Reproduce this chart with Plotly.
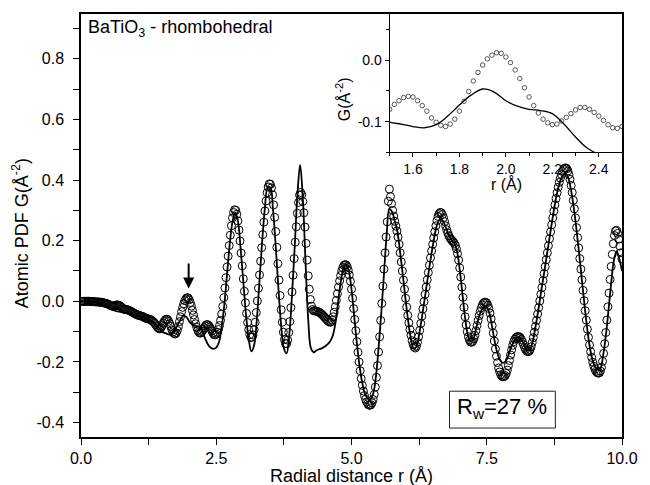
import plotly.graph_objects as go

# ---------------- data ----------------
R_OBS_STEP = 0.02   # experimental points, r = 0 ... 10 A
G_OBS = [
    0.000, 0.000, 0.000, 0.000, 0.000, 0.000, 0.000, 0.000, 0.000, -0.001, -0.001, -0.001, -0.001, -0.002, -0.002, -0.002, -0.002, -0.003, -0.003, -0.003, -0.004, -0.005, -0.006, -0.007, -0.008,
    -0.009, -0.011, -0.013, -0.015, -0.016, -0.016, -0.015, -0.013, -0.012, -0.012, -0.013, -0.015, -0.018, -0.021, -0.024, -0.026, -0.027, -0.027, -0.028, -0.029, -0.031, -0.033, -0.035, -0.037, -0.039,
    -0.041, -0.043, -0.045, -0.046, -0.047, -0.048, -0.049, -0.050, -0.052, -0.054, -0.056, -0.057, -0.058, -0.059, -0.060, -0.062, -0.065, -0.068, -0.072, -0.077, -0.082, -0.087, -0.090, -0.091, -0.087,
    -0.080, -0.072, -0.066, -0.061, -0.059, -0.060, -0.066, -0.074, -0.083, -0.094, -0.101, -0.106, -0.108, -0.104, -0.096, -0.083, -0.067, -0.051, -0.034, -0.020, -0.008, 0.002, 0.008, 0.012, 0.011,
    0.005, -0.004, -0.016, -0.030, -0.045, -0.060, -0.074, -0.086, -0.096, -0.102, -0.105, -0.104, -0.099, -0.093, -0.087, -0.081, -0.077, -0.077, -0.080, -0.085, -0.091, -0.098, -0.105, -0.110, -0.111,
    -0.108, -0.102, -0.093, -0.080, -0.063, -0.042, -0.017, 0.012, 0.044, 0.078, 0.113, 0.149, 0.184, 0.218, 0.249, 0.275, 0.293, 0.302, 0.300, 0.287, 0.265, 0.235, 0.199, 0.159, 0.117,
    0.074, 0.033, -0.005, -0.040, -0.070, -0.094, -0.110, -0.119, -0.119, -0.111, -0.094, -0.069, -0.037, 0.001, 0.043, 0.087, 0.132, 0.177, 0.220, 0.261, 0.298, 0.331, 0.358, 0.377, 0.387,
    0.386, 0.374, 0.351, 0.318, 0.277, 0.230, 0.178, 0.124, 0.070, 0.019, -0.028, -0.069, -0.102, -0.126, -0.139, -0.140, -0.128, -0.103, -0.067, -0.021, 0.031, 0.086, 0.141, 0.195, 0.246,
    0.290, 0.326, 0.350, 0.359, 0.352, 0.329, 0.292, 0.245, 0.191, 0.136, 0.084, 0.040, 0.006, -0.016, -0.027, -0.031, -0.032, -0.032, -0.033, -0.034, -0.036, -0.038, -0.041, -0.044, -0.048,
    -0.052, -0.056, -0.060, -0.064, -0.067, -0.069, -0.068, -0.062, -0.051, -0.036, -0.018, 0.003, 0.025, 0.047, 0.067, 0.085, 0.100, 0.111, 0.118, 0.121, 0.120, 0.114, 0.103, 0.087, 0.066,
    0.040, 0.010, -0.024, -0.060, -0.097, -0.133, -0.168, -0.200, -0.229, -0.255, -0.277, -0.296, -0.311, -0.323, -0.332, -0.338, -0.342, -0.343, -0.341, -0.335, -0.324, -0.307, -0.283, -0.251, -0.212,
    -0.167, -0.117, -0.063, -0.007, 0.050, 0.106, 0.160, 0.212, 0.262, 0.330, 0.370, 0.345, 0.322, 0.300, 0.281, 0.264, 0.248, 0.232, 0.212, 0.188, 0.160, 0.130, 0.100, 0.070, 0.040,
    0.010, -0.019, -0.046, -0.071, -0.093, -0.112, -0.130, -0.143, -0.151, -0.154, -0.148, -0.135, -0.117, -0.096, -0.073, -0.049, -0.025, -0.001, 0.023, 0.047, 0.071, 0.095, 0.119, 0.143, 0.166,
    0.188, 0.209, 0.229, 0.249, 0.266, 0.280, 0.289, 0.293, 0.292, 0.286, 0.276, 0.263, 0.249, 0.236, 0.225, 0.216, 0.209, 0.204, 0.200, 0.196, 0.191, 0.184, 0.173, 0.157, 0.136,
    0.110, 0.080, 0.047, 0.013, -0.020, -0.051, -0.078, -0.100, -0.117, -0.128, -0.134, -0.135, -0.132, -0.124, -0.112, -0.097, -0.080, -0.063, -0.047, -0.033, -0.021, -0.012, -0.006, -0.003, -0.003,
    -0.006, -0.013, -0.024, -0.039, -0.058, -0.080, -0.105, -0.131, -0.157, -0.181, -0.202, -0.220, -0.233, -0.242, -0.247, -0.249, -0.248, -0.245, -0.238, -0.227, -0.212, -0.195, -0.177, -0.160, -0.145,
    -0.133, -0.125, -0.120, -0.117, -0.116, -0.117, -0.120, -0.126, -0.134, -0.143, -0.152, -0.159, -0.164, -0.166, -0.165, -0.160, -0.150, -0.136, -0.120, -0.102, -0.083, -0.063, -0.042, -0.021, 0.001,
    0.023, 0.045, 0.068, 0.091, 0.114, 0.137, 0.160, 0.183, 0.206, 0.229, 0.252, 0.275, 0.297, 0.318, 0.339, 0.358, 0.376, 0.392, 0.406, 0.418, 0.428, 0.435, 0.439, 0.440, 0.437,
    0.430, 0.418, 0.402, 0.382, 0.359, 0.333, 0.305, 0.275, 0.243, 0.210, 0.176, 0.141, 0.106, 0.071, 0.036, 0.002, -0.031, -0.062, -0.092, -0.119, -0.144, -0.166, -0.185, -0.201, -0.214,
    -0.224, -0.231, -0.235, -0.237, -0.236, -0.230, -0.218, -0.198, -0.172, -0.140, -0.103, -0.062, -0.018, 0.027, 0.072, 0.115, 0.155, 0.190, 0.217, 0.232, 0.234, 0.224, 0.205, 0.182, 0.160,
    0.140,
]

R_FIT_STEP = 0.05   # model (rhombohedral fit), r = 0 ... 10 A
G_FIT = [
    0.000, 0.000, 0.000, 0.000, -0.001, -0.002, -0.003, -0.005, -0.008, -0.013, -0.019, -0.025, -0.029, -0.032, -0.034, -0.036, -0.038, -0.039, -0.040, -0.041,
    -0.043, -0.046, -0.049, -0.052, -0.056, -0.060, -0.065, -0.072, -0.080, -0.090, -0.101, -0.104, -0.108, -0.110, -0.105, -0.091, -0.073, -0.057, -0.047, -0.052,
    -0.066, -0.075, -0.080, -0.082, -0.087, -0.104, -0.125, -0.143, -0.153, -0.157, -0.153, -0.135, -0.085, -0.010, 0.090, 0.190, 0.262, 0.292, 0.265, 0.175,
    0.065, -0.045, -0.125, -0.165, -0.145, -0.060, 0.070, 0.200, 0.310, 0.375, 0.375, 0.300, 0.180, 0.040, -0.080, -0.155, -0.172, -0.110, 0.020, 0.180,
    0.350, 0.450, 0.340, 0.130, -0.060, -0.155, -0.168, -0.162, -0.158, -0.155, -0.150, -0.143, -0.133, -0.115, -0.075, -0.005, 0.062, 0.108, 0.122, 0.100,
    0.040, -0.050, -0.140, -0.215, -0.270, -0.305, -0.320, -0.322, -0.305, -0.250, -0.155, -0.040, 0.090, 0.220, 0.305, 0.295, 0.265, 0.228, 0.160, 0.085,
    0.005, -0.068, -0.125, -0.155, -0.150, -0.110, -0.055, 0.005, 0.065, 0.125, 0.180, 0.230, 0.262, 0.272, 0.262, 0.240, 0.218, 0.202, 0.192, 0.165,
    0.105, 0.025, -0.055, -0.110, -0.133, -0.125, -0.093, -0.055, -0.030, -0.018, -0.019, -0.040, -0.085, -0.135, -0.173, -0.195, -0.203, -0.197, -0.178, -0.152,
    -0.133, -0.121, -0.120, -0.128, -0.146, -0.163, -0.158, -0.132, -0.085, -0.032, 0.025, 0.082, 0.140, 0.198, 0.255, 0.310, 0.357, 0.393, 0.414, 0.422,
    0.410, 0.375, 0.320, 0.250, 0.170, 0.085, 0.000, -0.080, -0.145, -0.190, -0.215, -0.226, -0.222, -0.180, -0.115, -0.030, 0.060, 0.135, 0.165, 0.140,
    0.100,
]

r_obs = [round(i * R_OBS_STEP, 2) for i in range(len(G_OBS))]
r_fit = [round(i * R_FIT_STEP, 2) for i in range(len(G_FIT))]

X_TICKS = [0, 2.5, 5, 7.5, 10]
X_TICKTEXT = ["0.0", "2.5", "5.0", "7.5", "10.0"]
X_MINOR = [1.25, 3.75, 6.25, 8.75]
Y_TICKS = [-0.4, -0.2, 0.0, 0.2, 0.4, 0.6, 0.8]
Y_TICKTEXT = ["-0.4", "-0.2", "0.0", "0.2", "0.4", "0.6", "0.8"]
Y_MINOR = [-0.3, -0.1, 0.1, 0.3, 0.5, 0.7, 0.9]

IN_X_TICKS = [1.6, 1.8, 2.0, 2.2, 2.4]
IN_X_TICKTEXT = ["1.6", "1.8", "2.0", "2.2", "2.4"]
IN_X_MINOR = [1.5, 1.7, 1.9, 2.1, 2.3, 2.5]
IN_Y_TICKS = [-0.1, 0.0]
IN_Y_TICKTEXT = ["-0.1", "0.0"]
IN_Y_MINOR = [-0.15, -0.05, 0.05]

TITLE = "BaTiO<sub>3</sub> - rhombohedral"
RW_TEXT = "R<sub>w</sub>=27 %"

# ---------------- figure ----------------
FONT = "Liberation Sans, Arial, sans-serif"
fig = go.Figure()

fig.add_trace(go.Scatter(x=r_obs, y=G_OBS, mode="markers", xaxis="x", yaxis="y",
                         marker=dict(symbol="circle-open", size=8, color="black",
                                     line=dict(width=1, color="black")),
                         showlegend=False))
fig.add_trace(go.Scatter(x=r_fit, y=G_FIT, mode="lines", xaxis="x", yaxis="y",
                         line=dict(color="black", width=1.8, shape="spline", smoothing=1),
                         showlegend=False))
fig.add_trace(go.Scatter(x=r_obs, y=G_OBS, mode="markers", xaxis="x2", yaxis="y2",
                         marker=dict(symbol="circle-open", size=4.5, color="#444",
                                     line=dict(width=0.9, color="#444")),
                         showlegend=False))
fig.add_trace(go.Scatter(x=r_fit, y=G_FIT, mode="lines", xaxis="x2", yaxis="y2",
                         line=dict(color="black", width=1.3, shape="spline", smoothing=1),
                         showlegend=False))

axis_common = dict(showline=True, linecolor="black", linewidth=1.5, mirror=True,
                   ticks="outside", ticklen=6, tickwidth=1.3, tickcolor="black",
                   showgrid=False, zeroline=False)

fig.update_layout(
    width=650, height=485,
    margin=dict(l=81, r=17, t=12, b=48),
    paper_bgcolor="white", plot_bgcolor="white",
    font=dict(family=FONT, color="black"),
    xaxis=dict(range=[0, 10], domain=[0, 1], anchor="y",
               tickmode="array", tickvals=X_TICKS, ticktext=X_TICKTEXT,
               minor=dict(tickvals=X_MINOR, ticks="outside", ticklen=6, tickwidth=1.3, tickcolor="black"),
               tickfont=dict(size=16), **axis_common),
    yaxis=dict(range=[-0.4475, 0.9475], domain=[0, 1], anchor="x",
               tickmode="array", tickvals=Y_TICKS, ticktext=Y_TICKTEXT,
               minor=dict(tickvals=Y_MINOR, ticks="outside", ticklen=6, tickwidth=1.3, tickcolor="black"),
               tickfont=dict(size=16), ticklabelstandoff=6, **axis_common),
    xaxis2=dict(range=[1.5, 2.5], domain=[(396 - 81) / 552, 1], anchor="y2",
                tickmode="array", tickvals=IN_X_TICKS, ticktext=IN_X_TICKTEXT,
                minor=dict(tickvals=IN_X_MINOR, ticks="outside", ticklen=3, tickwidth=1, tickcolor="black"),
                tickfont=dict(size=14), showline=True, linecolor="black", linewidth=1.3, mirror=True,
                ticks="outside", ticklen=4, tickwidth=1, tickcolor="black",
                showgrid=False, zeroline=False),
    yaxis2=dict(range=[-0.15, 0.075], domain=[(437 - 151) / 425, 1], anchor="x2",
                tickmode="array", tickvals=IN_Y_TICKS, ticktext=IN_Y_TICKTEXT,
                minor=dict(tickvals=IN_Y_MINOR, ticks="outside", ticklen=3, tickwidth=1, tickcolor="black"),
                tickfont=dict(size=14), showline=True, linecolor="black", linewidth=1.3, mirror=True,
                ticks="outside", ticklen=4, tickwidth=1, tickcolor="black",
                showgrid=False, zeroline=False),
)

# titles / labels
fig.add_annotation(text=TITLE, xref="paper", yref="paper", x=(86 - 81) / 552, y=(437 - 13) / 425,
                   xanchor="left", yanchor="top", showarrow=False, font=dict(size=18))
fig.add_annotation(text="Atomic PDF G(Å<sup>-2</sup>)", xref="paper", yref="paper",
                   x=(20 - 81) / 552, y=(437 - 232) / 425, textangle=-90,
                   xanchor="center", yanchor="middle", showarrow=False, font=dict(size=18))
fig.add_annotation(text="Radial distance r (Å)", xref="paper", yref="paper",
                   x=0.5, y=(437 - 476) / 425, xanchor="center", yanchor="middle",
                   showarrow=False, font=dict(size=18))
fig.add_annotation(text="r (Å)", xref="paper", yref="paper",
                   x=(515 - 81) / 552, y=(437 - 183) / 425, xanchor="center", yanchor="middle",
                   showarrow=False, font=dict(size=16))
fig.add_annotation(text="G(Å<sup>-2</sup>)", xref="paper", yref="paper",
                   x=(348 - 81) / 552, y=(437 - 98) / 425, textangle=-90,
                   xanchor="center", yanchor="middle", showarrow=False, font=dict(size=16))

# R_w box
fig.add_shape(type="rect", xref="paper", yref="paper",
              x0=(457 - 81) / 552, x1=(565 - 81) / 552, y0=(437 - 428) / 425, y1=(437 - 391) / 425,
              line=dict(color="#222", width=1), fillcolor="white")
fig.add_annotation(text=RW_TEXT, xref="paper", yref="paper",
                   x=(511 - 81) / 552, y=(437 - 408) / 425, xanchor="center", yanchor="middle",
                   showarrow=False, font=dict(size=22))

# arrow marking the peak near 2 A
fig.add_annotation(x=1.99, y=0.042, ax=1.99, ay=0.13, xref="x", yref="y", axref="x", ayref="y",
                   text="", showarrow=True, arrowhead=2, arrowsize=1.1, arrowwidth=2, arrowcolor="black")

# remove the browser's default 8px page margin so the 650x485 figure fills the window exactly
fig.write_html("out.html", config={"displayModeBar": False},
               post_script="document.body.style.margin='0';")
